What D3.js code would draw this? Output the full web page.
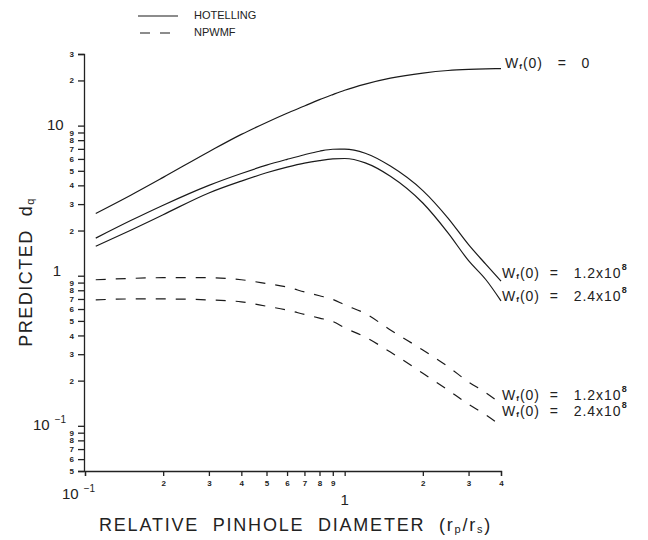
<!DOCTYPE html>
<html lang="en">
<head>
<meta charset="UTF-8">
<title>Predicted dq vs relative pinhole diameter</title>
<script src="https://d3js.org/d3.v7.min.js"></script>
<style>
    body { margin: 0; background: #fff; }
    svg { display: block; font-family: "Liberation Sans", Arial, sans-serif; }
    .axis path, .axis line { stroke: #222; stroke-width: 1.3px; }
    .axis text { font-size: 8px; font-weight: bold; fill: #222; }
    .lbl { fill: #222; white-space: pre; }
    .curve { fill: none; stroke: #1a1a1a; stroke-width: 1.2px; }
</style>
</head>
<body>
<svg width="648" height="540"></svg>
<script>
    // relative pinhole diameter grid (rp/rs)
    const pinholeX = [0.11, 0.15, 0.2, 0.3, 0.4, 0.5, 0.6, 0.7, 0.8, 0.9, 1, 1.2, 1.5, 2, 2.5, 3, 3.5, 4];

    // Hotelling observer
    const hotWf0    = [2.6, 3.44, 4.52, 6.7, 8.74, 10.5, 12.1, 13.5, 14.9, 16.1, 17.2, 18.9, 20.7, 22.4, 23.3, 23.7, 23.9, 24.0];
    const hotWf12   = [1.78, 2.33, 2.95, 4.0, 4.8, 5.45, 5.96, 6.4, 6.75, 6.96, 6.97, 6.55, 5.38, 3.69, 2.42, 1.61, 1.19, 0.92];
    const hotWf24   = [1.57, 2.01, 2.55, 3.56, 4.27, 4.85, 5.29, 5.63, 5.85, 6.0, 6.04, 5.65, 4.6, 3.05, 1.93, 1.26, 0.94, 0.68];
    // NPWMF observer
    const npwWf12   = [0.94, 0.96, 0.97, 0.97, 0.94, 0.886, 0.84, 0.78, 0.735, 0.695, 0.64, 0.56, 0.435, 0.32, 0.248, 0.196, 0.166, 0.14];
    const npwWf24   = [0.69, 0.70, 0.70, 0.69, 0.67, 0.626, 0.59, 0.552, 0.522, 0.495, 0.45, 0.39, 0.31, 0.224, 0.173, 0.139, 0.118, 0.10];

    const xTicks = [0.1, 0.2, 0.3, 0.4, 0.5, 0.6, 0.7, 0.8, 0.9, 1, 2, 3, 4];
    const yTicks = [0.05, 0.06, 0.07, 0.08, 0.09, 0.1, 0.2, 0.3, 0.4, 0.5, 0.6, 0.7, 0.8, 0.9,
                    1, 2, 3, 4, 5, 6, 7, 8, 9, 10, 20, 30];

    const series = [
        { values: hotWf0,  dashed: false, label: "0",         lx: 505, ly: 64 },
        { values: hotWf12, dashed: false, label: "1.2x10",    lx: 502, ly: 274 },
        { values: hotWf24, dashed: false, label: "2.4x10",    lx: 502, ly: 297 },
        { values: npwWf12, dashed: true,  label: "1.2x10",    lx: 502, ly: 396 },
        { values: npwWf24, dashed: true,  label: "2.4x10",    lx: 502, ly: 412 }
    ];

    const svg = d3.select("svg");

    const x = d3.scaleLog().domain([0.1, 4]).range([85, 501]);
    const y = d3.scaleLog().domain([0.05, 30]).range([471, 54]);

    const isPow10 = v => Math.abs(Math.log10(v) - Math.round(Math.log10(v))) < 1e-6;
    const digit = v => isPow10(v) ? "" : String(Math.round(v / Math.pow(10, Math.floor(Math.log10(v) + 1e-9))));

    // axes
    svg.append("g")
        .attr("class", "axis")
        .attr("transform", "translate(0,471)")
        .call(d3.axisBottom(x).tickValues(xTicks).tickFormat(digit).tickSize(5).tickSizeOuter(5).tickPadding(4));

    svg.append("g")
        .attr("class", "axis")
        .attr("transform", "translate(84,0)")
        .call(d3.axisLeft(y).tickValues(yTicks).tickFormat(digit).tickSize(6).tickSizeOuter(6).tickPadding(4));

    // decade labels
    function pow10Label(px, py, anchor, exp) {
        const t = svg.append("text").attr("class", "lbl")
            .attr("x", px).attr("y", py).attr("text-anchor", anchor)
            .attr("dominant-baseline", "middle")
            .style("font-size", "15px");
        t.append("tspan").text("10");
        t.append("tspan").attr("dx", 5).attr("dy", -6).style("font-size", "10px").text(exp);
    }
    pow10Label(47, y(10), "start", "");
    svg.append("text").attr("class", "lbl").attr("x", 61).attr("y", y(1) - 4)
        .attr("text-anchor", "end").attr("dominant-baseline", "middle").style("font-size", "15px").text("1");
    pow10Label(33, y(0.1), "start", "\u22121");
    pow10Label(62, 495, "start", "\u22121");
    svg.append("text").attr("class", "lbl").attr("x", x(1)).attr("y", 501)
        .attr("text-anchor", "middle").attr("dominant-baseline", "middle").style("font-size", "15px").text("1");

    // curves
    const line = d3.line()
        .x((d, i) => x(pinholeX[i]))
        .y(d => y(d))
        .curve(d3.curveMonotoneX);

    svg.selectAll("path.curve")
        .data(series)
        .join("path")
        .attr("class", "curve")
        .attr("stroke-dasharray", d => d.dashed ? "10,10" : null)
        .attr("d", d => line(d.values));

    // curve labels
    series.forEach(s => {
        const t = svg.append("text").attr("class", "lbl")
            .attr("x", s.lx).attr("y", s.ly)
            .attr("dominant-baseline", "middle")
            .style("font-size", "14px").style("letter-spacing", "1px");
        t.append("tspan").text("W");
        t.append("tspan").attr("dy", 3).style("font-size", "8px").style("font-weight", "bold").text("f");
        t.append("tspan").attr("dy", -3).text(s.label === "0" ? "(0)   =   0" : "(0)  =   " + s.label);
        if (s.label !== "0") {
            t.append("tspan").attr("dy", -6).style("font-size", "9px").style("font-weight", "bold").text("8");
        }
    });

    // legend
    const legend = svg.append("g");
    legend.append("line").attr("x1", 138).attr("x2", 178).attr("y1", 16).attr("y2", 16)
        .attr("stroke", "#1a1a1a").attr("stroke-width", 1.2);
    legend.append("line").attr("x1", 140).attr("x2", 172).attr("y1", 33).attr("y2", 33)
        .attr("stroke", "#1a1a1a").attr("stroke-width", 1.2).attr("stroke-dasharray", "10,10");
    legend.append("text").attr("class", "lbl").attr("x", 194).attr("y", 16)
        .attr("dominant-baseline", "middle").style("font-size", "11px").text("HOTELLING");
    legend.append("text").attr("class", "lbl").attr("x", 194).attr("y", 33)
        .attr("dominant-baseline", "middle").style("font-size", "11px").text("NPWMF");

    // axis titles
    const xt = svg.append("text").attr("class", "lbl")
        .attr("x", 99).attr("y", 526)
        .attr("dominant-baseline", "middle")
        .style("font-size", "18px").style("letter-spacing", "1.8px");
    xt.append("tspan").text("RELATIVE  PINHOLE  DIAMETER  (r");
    xt.append("tspan").attr("dy", 4).style("font-size", "11px").text("p");
    xt.append("tspan").attr("dy", -4).text("/r");
    xt.append("tspan").attr("dy", 4).style("font-size", "11px").text("s");
    xt.append("tspan").attr("dy", -4).text(")");

    const yt = svg.append("text").attr("class", "lbl")
        .attr("transform", "translate(27,272) rotate(-90)")
        .attr("text-anchor", "middle")
        .attr("dominant-baseline", "middle")
        .style("font-size", "18px").style("letter-spacing", "1.5px");
    yt.append("tspan").text("PREDICTED  d");
    yt.append("tspan").attr("dy", 4).style("font-size", "11px").text("q");
</script>
</body>
</html>
